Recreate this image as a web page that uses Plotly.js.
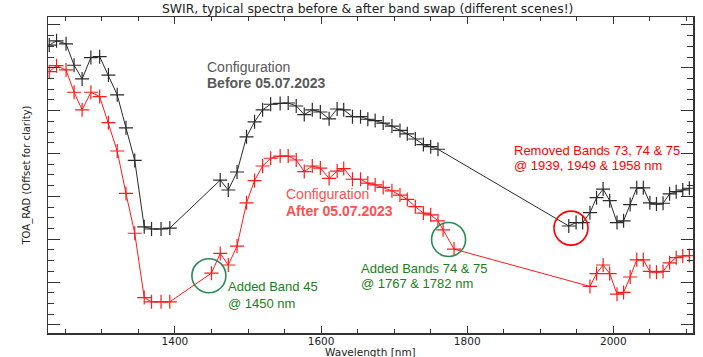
<!DOCTYPE html>
<html>
<head>
<meta charset="utf-8">
<script src="https://cdn.plot.ly/plotly-3.0.1.min.js"></script>
<style>html,body{margin:0;padding:0;background:#fff;}#chart{width:703px;height:357px;}</style>
</head>
<body>
<div id="chart"></div>
<script>
// Configuration before 05.07.2023 (black)
const wavelengthBefore = [
  1228, 1238, 1251, 1262, 1273, 1285, 1297, 1309, 1321, 1333, 1345, 1358, 1368, 1381, 1393,
  1462, 1473, 1485, 1498, 1509, 1520, 1531, 1544, 1555, 1566, 1577, 1588, 1599, 1611, 1622,
  1631, 1643, 1654, 1664, 1674, 1685, 1697, 1708, 1718, 1729, 1740, 1750, 1760,
  1939, 1949, 1958, 1968, 1977, 1986, 1995, 2005, 2014, 2023, 2032, 2041, 2050, 2059, 2068,
  2077, 2086, 2095, 2104
];
const radianceBefore = [
  65.3, 66.3, 65.6, 60.6, 57.4, 62.4, 62.6, 58.3, 53.7, 46.0, 38.4, 22.9, 22.4, 22.4, 22.6,
  33.8, 31.5, 35.7, 43.9, 47.4, 50.2, 51.5, 51.7, 51.8, 51.1, 49.1, 50.2, 49.7, 48.1, 50.4,
  50.2, 48.6, 48.6, 48.0, 47.7, 47.1, 46.4, 45.4, 44.6, 43.4, 42.1, 41.6, 41.0,
  23.1, 23.9, 23.9, 26.2, 29.7, 31.7, 29.0, 23.9, 24.3, 28.1, 32.0, 32.0, 28.5, 28.2, 28.4,
  30.6, 31.1, 31.5, 31.9
];
// Configuration after 05.07.2023 (red)
const wavelengthAfter = [
  1228, 1238, 1251, 1262, 1273, 1285, 1297, 1309, 1321, 1333, 1345, 1358, 1368, 1381, 1393,
  1450,
  1462, 1473, 1485, 1498, 1509, 1520, 1531, 1544, 1555, 1566, 1577, 1588, 1599, 1611, 1622,
  1631, 1643, 1654, 1664, 1674, 1685, 1697, 1708, 1718, 1729, 1740, 1750, 1760,
  1767, 1782,
  1968, 1977, 1986, 1995, 2005, 2014, 2023, 2032, 2041, 2050, 2059, 2068, 2077, 2086, 2095, 2104
];
const radianceAfter = [
  59.1, 60.5, 59.5, 54.3, 50.2, 54.3, 53.3, 47.2, 40.6, 30.7, 21.4, 6.4, 5.4, 5.4, 5.4,
  12.1,
  16.7, 14.0, 18.4, 28.5, 33.7, 37.1, 38.9, 39.4, 39.4, 38.5, 35.8, 37.1, 36.6, 34.2, 35.9,
  36.5, 34.0, 34.0, 33.1, 32.7, 32.1, 31.3, 30.3, 29.3, 27.6, 26.1, 25.7, 24.3,
  22.2, 17.7,
  9.0, 12.0, 14.0, 12.0, 7.2, 7.6, 11.2, 15.2, 15.2, 12.5, 12.3, 12.5, 14.5, 15.7, 16.1, 16.2
];
const titleText = "SWIR, typical spectra before & after band swap (different scenes!)";
const xTitle = "Wavelength [nm]";
const yTitle = "TOA_RAD (Offset for clarity)";

function valueAt(ws, vs, w) { return vs[ws.indexOf(w)]; }

const redC = '#ff1a1a';
const green = '#1a801a';
const circleGreen = '#2a8a55';
const fontTxt = 'Liberation Sans, Arial, sans-serif';
const fontAx = 'DejaVu Sans, sans-serif';

const traces = [
  {x: wavelengthBefore, y: radianceBefore, type: 'scatter', mode: 'lines+markers',
   line: {color: '#2a2a2a', width: 1},
   marker: {symbol: 'cross-thin-open', size: 10, line: {color: '#000', width: 1.2}},
   hoverinfo: 'x+y', showlegend: false},
  {x: wavelengthAfter, y: radianceAfter, type: 'scatter', mode: 'lines+markers',
   line: {color: redC, width: 1},
   marker: {symbol: 'cross-thin-open', size: 10, line: {color: redC, width: 1.2}},
   hoverinfo: 'x+y', showlegend: false}
];

function circle(cx, cy, color, r) {
  return {type: 'circle', xref: 'x', yref: 'y', xsizemode: 'pixel', ysizemode: 'pixel',
    xanchor: cx, yanchor: cy, x0: -r, x1: r, y0: -r, y1: r,
    line: {color: color, width: 1.6}, fillcolor: 'rgba(0,0,0,0)'};
}
const c1x = 1446.5, c1y = valueAt(wavelengthAfter, radianceAfter, 1450) - 0.6;
const c2x = (1767 + 1782) / 2, c2y = (valueAt(wavelengthAfter, radianceAfter, 1767) + valueAt(wavelengthAfter, radianceAfter, 1782)) / 2;
const c3x = 1942, c3y = (valueAt(wavelengthBefore, radianceBefore, 1939) + valueAt(wavelengthBefore, radianceBefore, 1949)) / 2 - 0.9;

function label(text, x, y, color, size) {
  return {text: text, x: x, y: y, xref: 'x', yref: 'y', xanchor: 'left', yanchor: 'middle',
    showarrow: false, font: {family: fontTxt, size: size, color: color}};
}

const layout = {
  width: 703, height: 357,
  margin: {l: 48, r: 10, t: 17, b: 24},
  paper_bgcolor: '#fff', plot_bgcolor: '#fff',
  title: {text: titleText, x: 0.523, xanchor: 'center', y: 0.975, yanchor: 'middle',
    font: {family: fontAx, size: 12.4, color: '#222'}},
  xaxis: {range: [1226.3, 2109], showgrid: false, zeroline: false,
    showline: true, linecolor: '#333', linewidth: 1.5, mirror: 'ticks',
    ticks: 'inside', ticklen: 7, tickcolor: '#333', tickwidth: 1, tick0: 0, dtick: 200,
    minor: {dtick: 50, ticklen: 4, ticks: 'inside', tickcolor: '#333'},
    ticklabelstandoff: -2,
    tickfont: {family: fontAx, size: 10.5, color: '#222'}},
  yaxis: {range: [-1.87, 71.86], showgrid: false, zeroline: false,
    showline: true, linecolor: '#333', linewidth: 1.5, mirror: 'ticks',
    ticks: 'inside', ticklen: 12, tickcolor: '#333', tickwidth: 1, tick0: 0, dtick: 10,
    minor: {dtick: 2.5, ticklen: 6, ticks: 'inside', tickcolor: '#333'},
    showticklabels: false,
    title: {text: yTitle, standoff: 14, font: {family: fontAx, size: 10, color: '#222'}}},
  shapes: [circle(c1x, c1y, circleGreen, 17), circle(c2x, c2y, circleGreen, 17), circle(c3x, c3y, '#ff0000', 17)],
  annotations: [
    {text: xTitle, xref: 'paper', yref: 'paper', x: 0.5, y: 0, xanchor: 'center', yanchor: 'top',
     yshift: -11, showarrow: false, font: {family: fontAx, size: 10.5, color: '#222'}},
    label('Configuration', 1441, 60.2, '#595959', 14),
    label('<b>Before 05.07.2023</b>', 1441, 56.5, '#595959', 14),
    label('Configuration', 1549, 30.6, '#ff5050', 14),
    label('<b>After 05.07.2023</b>', 1549, 26.6, '#ff5050', 14),
    label('Removed Bands 73, 74 &amp; 75', 1861, 40.8, '#ff0000', 13),
    label('@ 1939, 1949 &amp; 1958 nm', 1861, 37.1, '#ff0000', 13),
    label('Added Band 45', 1470, 8.9, green, 13),
    label('@ 1450 nm', 1470, 4.9, green, 13),
    label('Added Bands 74 &amp; 75', 1652, 13.1, green, 13),
    label('@ 1767 &amp; 1782 nm', 1652, 9.6, green, 13)
  ]
};

Plotly.newPlot('chart', traces, layout, {displayModeBar: false, staticPlot: true});
</script>
</body>
</html>
